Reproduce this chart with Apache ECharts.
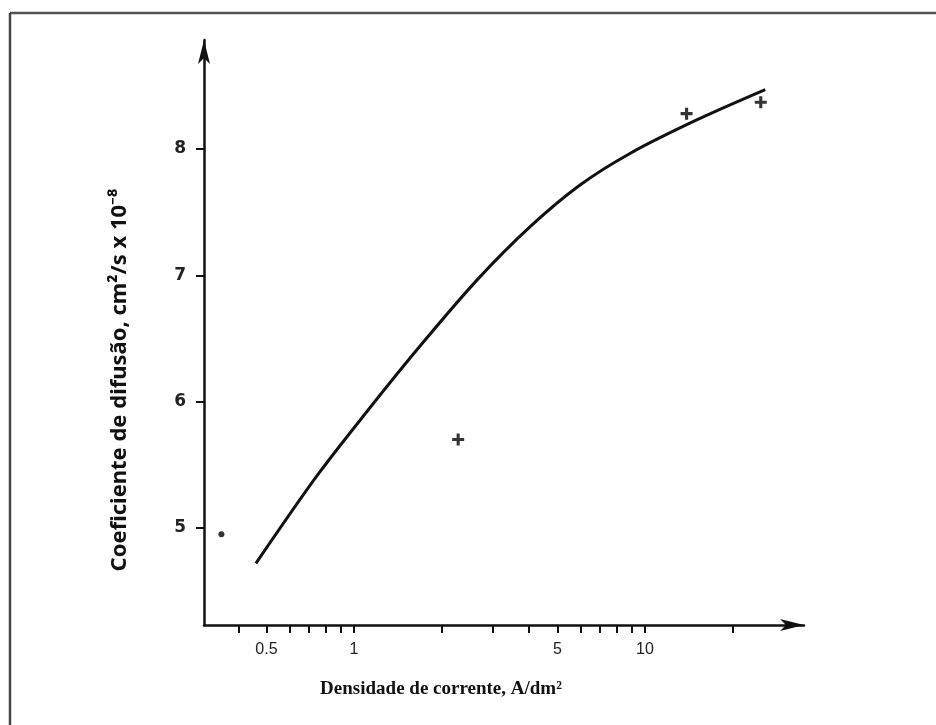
<!DOCTYPE html>
<html>
<head>
<meta charset="utf-8">
<script src="https://cdn.jsdelivr.net/npm/echarts@6/dist/echarts.min.js"></script>
<style>
  html, body { margin: 0; padding: 0; background: #fff; }
  #chart { width: 936px; height: 725px; }
</style>
</head>
<body>
<div id="chart"></div>
<script>
// curva ajustada
var curveX = [0.46, 0.744, 1.106, 1.686, 2.64, 4.03, 5.98, 8.88, 15.06, 25.9]
var curveY = [4.72, 5.41, 5.92, 6.44, 6.96, 7.385, 7.715, 7.965, 8.23, 8.47]

// pontos experimentais
var pointX = [0.35, 2.28, 13.9, 25.0]
var pointY = [4.95, 5.70, 8.28, 8.37]

// marcas dos eixos
var xTicks = [0.4, 0.5, 0.6, 0.7, 0.8, 0.9, 1, 2, 3, 4, 5, 6, 7, 8, 9, 10, 20]
var xLabels = [0.5, 1, 5, 10]
var yTicks = [5, 6, 7, 8]

var plusPath = 'path://M3.7,0L6.3,0L6.3,3.7L10,3.7L10,6.3L6.3,6.3L6.3,10L3.7,10L3.7,6.3L0,6.3L0,3.7L3.7,3.7Z'

var myChart = echarts.init(document.getElementById('chart'))

var curveData = curveX.map(function (x, i) { return [x, curveY[i]] })
var pointData = pointX.map(function (x, i) {
  return {
    value: [x, pointY[i]],
    symbol: i === 0 ? 'circle' : plusPath,
    symbolSize: i === 0 ? 6 : 12
  }
})

var option = {
  backgroundColor: '#fff',
  animation: false,
  graphic: [
    // moldura (topo e esquerda)
    { type: 'line', shape: { x1: 10, y1: 13, x2: 936, y2: 13 }, style: { stroke: '#555', lineWidth: 2.5 } },
    { type: 'line', shape: { x1: 10, y1: 13, x2: 10, y2: 725 }, style: { stroke: '#444', lineWidth: 2.5 } }
  ],
  grid: { left: 204, right: 132, top: 40, bottom: 100 },
  xAxis: {
    type: 'log',
    logBase: 10,
    min: 0.305,
    max: 35.2,
    name: 'Densidade de corrente, A/dm²',
    nameLocation: 'middle',
    nameGap: 55,
    nameTextStyle: {
      fontFamily: 'Liberation Serif',
      fontWeight: 'bold',
      fontSize: 19,
      color: '#111',
      padding: [0, 126, 0, 0]
    },
    axisLine: {
      show: true,
      symbol: ['none', 'arrow'],
      symbolSize: [9, 24],
      lineStyle: { color: '#111', width: 2.5 }
    },
    axisTick: {
      show: true,
      inside: false,
      length: 8,
      customValues: xTicks,
      lineStyle: { color: '#111', width: 2 }
    },
    axisLabel: {
      customValues: xLabels,
      margin: 17,
      fontFamily: 'Liberation Sans',
      fontSize: 16,
      color: '#222',
      formatter: function (v) { return String(v) }
    },
    splitLine: { show: false },
    minorSplitLine: { show: false }
  },
  yAxis: {
    type: 'value',
    min: 4.232,
    max: 8.863,
    name: 'Coeficiente de difusão, cm²/s x 10⁻⁸',
    nameLocation: 'middle',
    nameGap: 73,
    nameRotate: 90,
    nameTextStyle: {
      fontFamily: 'Noto Sans',
      fontWeight: 'bold',
      fontSize: 22,
      color: '#111',
      padding: [0, 95, 0, 0]
    },
    axisLine: {
      show: true,
      symbol: ['none', 'arrow'],
      symbolSize: [9, 24],
      lineStyle: { color: '#111', width: 2.5 }
    },
    axisTick: {
      show: true,
      inside: false,
      length: 8,
      customValues: yTicks,
      lineStyle: { color: '#111', width: 2 }
    },
    axisLabel: {
      customValues: yTicks,
      margin: 18,
      fontFamily: 'DejaVu Sans',
      fontWeight: 'bold',
      fontSize: 17,
      color: '#222'
    },
    splitLine: { show: false }
  },
  series: [
    {
      type: 'line',
      data: curveData,
      smooth: 0.3,
      showSymbol: false,
      lineStyle: { color: '#111', width: 3 }
    },
    {
      type: 'scatter',
      data: pointData,
      itemStyle: { color: '#000' }
    }
  ]
}

myChart.setOption(option)
</script>
</body>
</html>
